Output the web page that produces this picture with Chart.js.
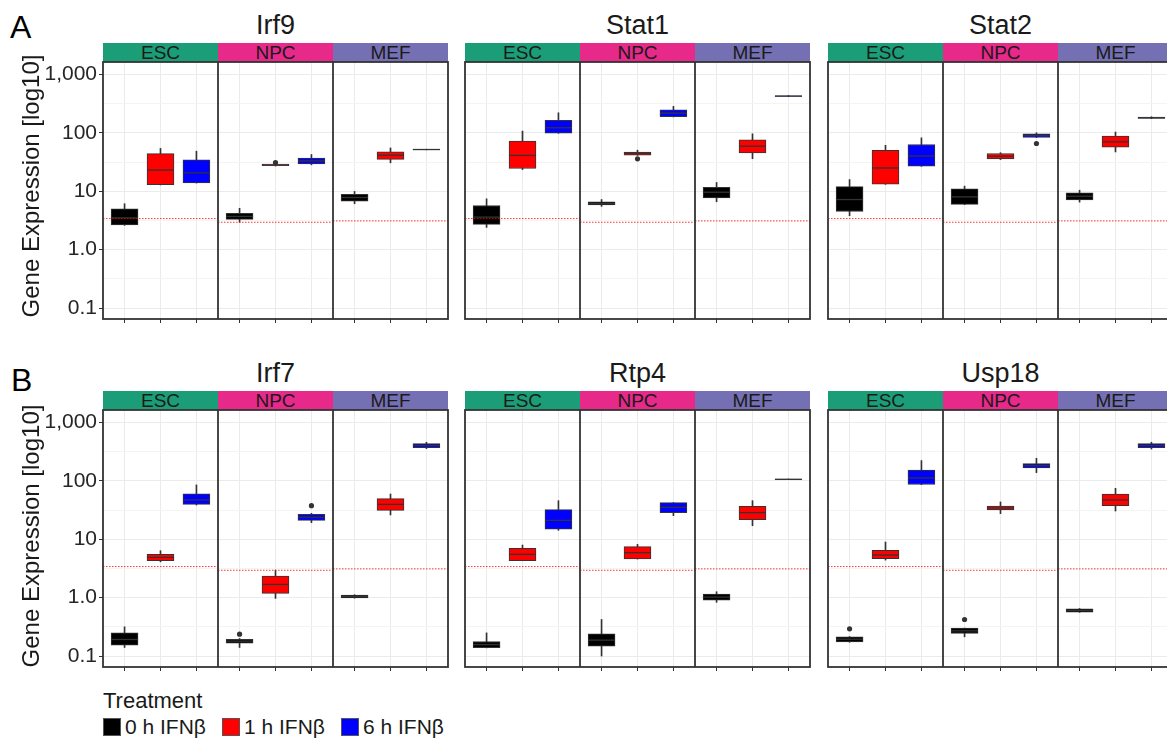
<!DOCTYPE html>
<html>
<head>
<meta charset="utf-8">
<script src="https://cdn.jsdelivr.net/npm/chart.js@4.4.1/dist/chart.umd.min.js"></script>
<style>
  body { margin: 0; width: 1167px; height: 740px; overflow: hidden; background: #fff;
         font-family: "Liberation Sans", Arial, sans-serif; position: relative; }
  .abs { position: absolute; white-space: nowrap; }
  .letter { font-size: 32px; line-height: 36px; color: #000; }
  .gene { font-size: 27px; line-height: 31px; color: #1a1a1a; text-align: center; }
  .strip { height: 19px; line-height: 20px; font-size: 19px; color: #1a1a1a; text-align: center; }
  .ytitle { width: 320px; height: 28px; line-height: 28px; font-size: 24px; color: #1a1a1a;
            text-align: center; transform: rotate(-90deg); }
  .legTitle { font-size: 22px; line-height: 26px; color: #1a1a1a; }
  .legKey { width: 16px; height: 16px; border: 1px solid #555; }
  .legText { font-size: 21px; line-height: 24px; color: #1a1a1a; }
  canvas { position: absolute; }
</style>
</head>
<body>
<script>
const genes = ["Irf9", "Stat1", "Stat2", "Irf7", "Rtp4", "Usp18"];
const cellTypes = ["ESC", "NPC", "MEF"];
const cellColors = ["#1b9e77", "#e7298a", "#7570b3"];
const treatments = ["0 h IFNβ", "1 h IFNβ", "6 h IFNβ"];
const treatmentColors = ["#000000", "#ff0000", "#0000ff"];
// dotted red reference level, one per cell type
const thresholds = [3.4, 2.94, 3.1];
const yTickValues = [0.1, 1, 10, 100, 1000];
const yTickLabels = ["0.1", "1.0", "10", "100", "1,000"];
const yMinorValues = [0.316, 3.16, 31.6, 316];

// boxes: [low whisker, Q1, median, Q3, high whisker]
// order: ESC 0h, ESC 1h, ESC 6h, NPC 0h, NPC 1h, NPC 6h, MEF 0h, MEF 1h, MEF 6h
const irf9 = [
  [2.6, 2.65, 3.5, 5.0, 6.1], [12.8, 12.9, 23, 44, 54], [13.8, 13.9, 20.6, 34.4, 48.5],
  [2.95, 3.3, 3.7, 4.2, 5.1], [27, 27.3, 28, 29, 29.5], [28.3, 29.4, 33, 36.8, 42.5],
  [6.1, 6.75, 7.8, 8.8, 9.9], [30.6, 35, 41.4, 47, 55], [51, 51.3, 51.7, 52, 52.3]
];
const stat1 = [
  [2.4, 2.7, 3.6, 5.7, 7.4], [23.5, 24.5, 41, 72, 107], [98, 99, 122, 163, 220],
  [5.5, 5.85, 6.15, 6.55, 7.2], [41, 41.4, 44.2, 46.6, 50.4], [187, 188, 217, 248, 283],
  [6.6, 7.7, 9.6, 11.7, 14.1], [36, 45.4, 59, 76, 96], [418, 420, 425, 430, 433]
];
const stat2 = [
  [3.8, 4.5, 7.2, 12, 15.8], [13.1, 13.2, 25, 50, 61], [26.7, 26.8, 40, 63, 82],
  [5.9, 5.95, 8.0, 11.0, 12.2], [34.8, 35.8, 39.8, 44.2, 45.6], [83, 83.2, 90, 96, 100],
  [6.5, 7.1, 8.2, 9.4, 10.4], [47, 57, 70, 88, 103], [175, 176, 181, 186, 188]
];
const irf7 = [
  [0.14, 0.153, 0.192, 0.249, 0.316], [4.1, 4.28, 4.88, 5.5, 6.35], [38.5, 39.5, 47, 60, 85],
  [0.14, 0.166, 0.18, 0.194, 0.2], [0.97, 1.18, 1.68, 2.34, 2.96], [19.2, 21, 23.7, 26.7, 27.7],
  [0.98, 0.99, 1.05, 1.1, 1.12], [26, 31.2, 39.5, 49.4, 59.4], [356, 370, 401, 434, 457]
];
const rtp4 = [
  [0.138, 0.139, 0.157, 0.177, 0.249], [4.28, 4.29, 5.5, 6.96, 7.94], [14.2, 14.9, 21, 32, 45.7],
  [0.1, 0.147, 0.187, 0.24, 0.422], [4.57, 4.58, 5.87, 7.44, 8.15], [25.3, 28.5, 35.1, 42.2, 42.3],
  [0.83, 0.906, 1.02, 1.15, 1.26], [17, 21.6, 28.5, 36.5, 45.7], [105, 105.5, 106, 106.5, 107]
];
const usp18 = [
  [0.172, 0.175, 0.194, 0.213, 0.215], [4.39, 4.63, 5.35, 6.44, 8.94], [86, 86.5, 112, 153, 222],
  [0.213, 0.243, 0.27, 0.3, 0.301], [27.4, 31.6, 34.2, 37, 43.4], [138, 166, 182, 197, 243],
  [0.56, 0.564, 0.603, 0.644, 0.65], [30.4, 37.5, 47, 59.4, 74.3], [350, 370, 401, 434, 457]
];
// outliers: [box index, value]
const irf9Out = [[4, 31]];
const stat1Out = [[4, 35.8]];
const stat2Out = [[5, 65.6]];
const irf7Out = [[3, 0.237], [5, 37.5]];
const rtp4Out = [];
const usp18Out = [[0, 0.292], [3, 0.422]];

const geneStats = [irf9, stat1, stat2, irf7, rtp4, usp18];
const geneOutliers = [irf9Out, stat1Out, stat2Out, irf7Out, rtp4Out, usp18Out];

// layout
const panelLefts = [103, 465, 828];
const rowTops = [62, 410];
const plotW = 345, plotH = 257;
const padT = 4, padR = 3, xAxisH = 10;
const yMin = Math.pow(10, -1.188), yMax = Math.pow(10, 3.212);
const facetEdges = [3.6, 6.8];
const boxPx = 0.75 * plotW / 9.6;

Chart.defaults.font.family = '"Liberation Sans", Arial, sans-serif';

const slotX = (i) => 1 + (i % 3) + 3.2 * Math.floor(i / 3);
const isMajor = (v) => yTickValues.some((m) => Math.abs(m - v) / m < 1e-6);

const framePlugin = {
  id: "facetFrame",
  afterDatasetsDraw(chart) {
    const { ctx, chartArea: a, scales: { x } } = chart;
    ctx.save();
    ctx.strokeStyle = "#333";
    ctx.lineWidth = 1.8;
    facetEdges.forEach((v) => {
      const px = Math.round(x.getPixelForValue(v));
      ctx.beginPath();
      ctx.moveTo(px, a.top);
      ctx.lineTo(px, a.bottom);
      ctx.stroke();
    });
    ctx.strokeRect(a.left, a.top, a.width, a.height);
    ctx.restore();
  },
};

function addDiv(cls, text, style) {
  const d = document.createElement("div");
  d.className = "abs " + cls;
  d.textContent = text;
  Object.assign(d.style, style);
  document.body.appendChild(d);
  return d;
}

function makePanel(gi) {
  const row = Math.floor(gi / 3), col = gi % 3;
  const stats = geneStats[gi];
  const left = panelLefts[col], top = rowTops[row];
  const yAxisW = col === 0 ? 103 : 4;

  // title and strips
  addDiv("gene", genes[gi], { left: left + "px", width: plotW + "px", top: (top - 52) + "px" });
  cellTypes.forEach((c, f) => {
    addDiv("strip", c, {
      left: (left + f * plotW / 3) + "px", width: (plotW / 3) + "px",
      top: (top - 19) + "px", background: cellColors[f],
    });
  });

  const canvas = document.createElement("canvas");
  canvas.width = yAxisW + plotW + padR;
  canvas.height = padT + plotH + xAxisH;
  canvas.style.left = (left - yAxisW) + "px";
  canvas.style.top = (top - padT) + "px";
  document.body.appendChild(canvas);

  const boxSets = treatments.map((t, ti) => ({
    type: "bar",
    label: t,
    data: [0, 1, 2].map((f) => {
      const s = stats[f * 3 + ti];
      return { x: slotX(f * 3 + ti), y: [s[1], s[3]] };
    }),
    backgroundColor: treatmentColors[ti],
    borderColor: "#333",
    borderWidth: 1,
    borderSkipped: false,
    barThickness: boxPx,
    grouped: false,
    order: 2,
  }));

  const whiskers = {
    type: "bar",
    data: stats.map((s, i) => ({ x: slotX(i), y: [s[0], s[4]] })),
    backgroundColor: "#333",
    barThickness: 1,
    grouped: false,
    order: 3,
  };

  const medians = {
    type: "scatter",
    data: stats.map((s, i) => ({ x: slotX(i), y: s[2] })),
    pointStyle: "line",
    pointRadius: boxPx / 2,
    pointBorderColor: "#333",
    pointBorderWidth: 1.3,
    order: 1,
  };

  const outliers = {
    type: "scatter",
    data: geneOutliers[gi].map(([i, v]) => ({ x: slotX(i), y: v })),
    pointStyle: "circle",
    pointRadius: 2.6,
    pointBackgroundColor: "#333",
    pointBorderColor: "#333",
    pointBorderWidth: 0,
    order: 0,
  };

  const thrData = [];
  thresholds.forEach((t, f) => {
    const x0 = 0.4 + 3.2 * f, x1 = x0 + 3.2;
    if (f > 0) thrData.push({ x: x0, y: null });
    thrData.push({ x: x0, y: t }, { x: x1, y: t });
  });
  const threshold = {
    type: "line",
    data: thrData,
    borderColor: "rgba(255,0,0,0.8)",
    borderWidth: 1,
    borderDash: [1.5, 1.5],
    pointRadius: 0,
    spanGaps: false,
    order: -1,
  };

  new Chart(canvas.getContext("2d"), {
    type: "bar",
    data: { datasets: [...boxSets, whiskers, medians, outliers, threshold] },
    options: {
      responsive: false,
      animation: false,
      events: [],
      layout: { autoPadding: false, padding: { top: padT, right: padR, left: 0, bottom: 0 } },
      plugins: { legend: { display: false }, tooltip: { enabled: false } },
      scales: {
        x: {
          type: "linear",
          min: 0.4,
          max: 10.0,
          offset: false,
          border: { display: false },
          grid: { offset: false, color: "#ebebeb", lineWidth: 1, drawTicks: true, tickLength: 4, tickColor: "#333" },
          ticks: { display: false, autoSkip: false },
          afterBuildTicks: (s) => { s.ticks = stats.map((_, i) => ({ value: slotX(i) })); },
          afterFit: (s) => { s.height = xAxisH; s.paddingLeft = 0; s.paddingRight = 0; },
        },
        y: {
          type: "logarithmic",
          min: yMin,
          max: yMax,
          bounds: "data",
          beginAtZero: false,
          border: { display: false },
          grid: {
            color: (c) => (isMajor(c.tick.value) ? "#ebebeb" : "#f4f4f4"),
            lineWidth: 1,
            drawTicks: col === 0,
            tickLength: 4,
            tickColor: (c) => (isMajor(c.tick.value) ? "#333" : "rgba(0,0,0,0)"),
          },
          ticks: {
            display: col === 0,
            autoSkip: false,
            padding: 2,
            color: "#262626",
            font: { size: 21 },
            callback: (v) => {
              const k = yTickValues.findIndex((m) => Math.abs(m - v) / m < 1e-6);
              return k >= 0 ? yTickLabels[k] : "";
            },
          },
          afterBuildTicks: (s) => {
            s.ticks = [...yTickValues, ...yMinorValues].sort((a, b) => a - b).map((v) => ({ value: v }));
          },
          afterFit: (s) => { s.width = yAxisW; s.paddingTop = 0; s.paddingBottom = 0; },
        },
      },
    },
    plugins: [framePlugin],
  });
}

genes.forEach((g, i) => makePanel(i));

// panel letters and y titles
addDiv("letter", "A", { left: "10px", top: "9px" });
addDiv("letter", "B", { left: "11px", top: "362px" });
addDiv("ytitle", "Gene Expression [log10]", { left: (31 - 160) + "px", top: (186 - 14) + "px" });
addDiv("ytitle", "Gene Expression [log10]", { left: (31 - 160) + "px", top: (536 - 14) + "px" });

// legend
addDiv("legTitle", "Treatment", { left: "103px", top: "688px" });
const legKeyX = [103, 222, 341];
treatments.forEach((t, i) => {
  addDiv("legKey", "", { left: legKeyX[i] + "px", top: "718px", background: treatmentColors[i] });
  addDiv("legText", t, { left: (legKeyX[i] + 22) + "px", top: "715px" });
});
</script>
</body>
</html>
